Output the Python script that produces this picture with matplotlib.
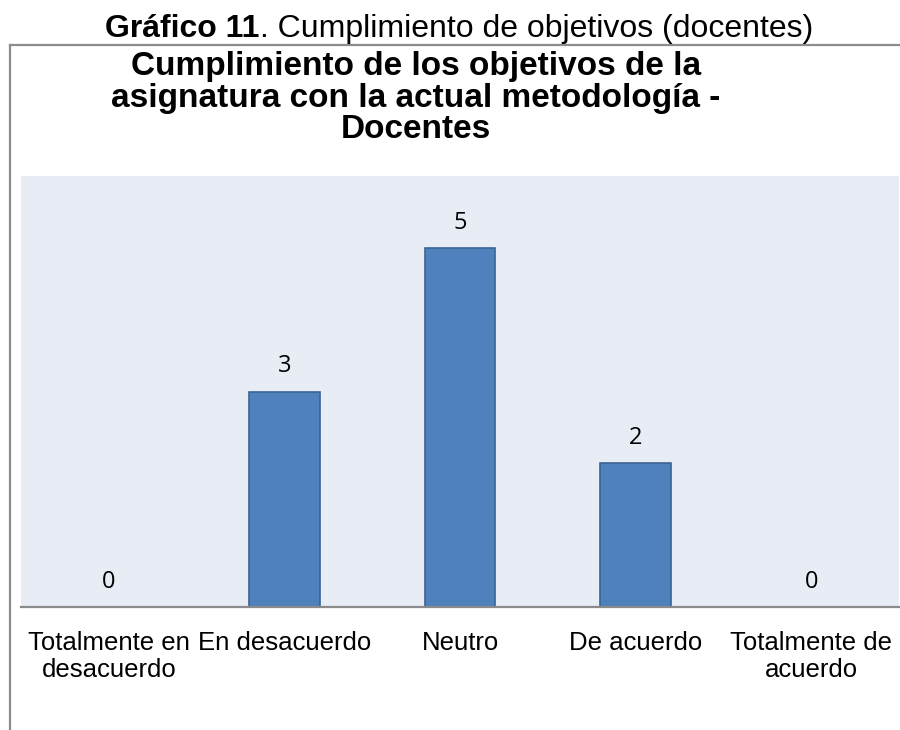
import matplotlib
matplotlib.use("Agg")
import matplotlib.pyplot as plt
from matplotlib.lines import Line2D

categories = ["Totalmente en\ndesacuerdo", "En desacuerdo", "Neutro", "De acuerdo", "Totalmente de\nacuerdo"]
values = [0, 3, 5, 2, 0]

fig = plt.figure(figsize=(9, 7.3), dpi=100)
fig.patch.set_facecolor("white")

# outer frame (top and left lines)
fig.add_artist(Line2D([10/900, 1.0], [1-45/730, 1-45/730], color="#8c8c8c", lw=1.6, transform=fig.transFigure))
fig.add_artist(Line2D([10/900, 10/900], [0, 1-45/730], color="#8c8c8c", lw=1.6, transform=fig.transFigure))

# figure caption: bold part + regular part, centred together
cap_y = 1 - 37/730
t1 = fig.text(0, cap_y, "Gráfico 11", ha="left", va="baseline", fontsize=23,
              fontweight="bold", family="Liberation Sans")
t2 = fig.text(0, cap_y, ". Cumplimiento de objetivos (docentes)", ha="left", va="baseline",
              fontsize=23, family="Liberation Sans")
fig.canvas.draw()
r = fig.canvas.get_renderer()
w1 = t1.get_window_extent(r).width
w2 = t2.get_window_extent(r).width
total = w1 + w2
x0 = 459 - total / 2
t1.set_x(x0 / 900)
t2.set_x((x0 + w1) / 900)

fig.text(416/900, 1-98/730,
         "Cumplimiento de los objetivos de la\nasignatura con la actual metodología -\nDocentes",
         ha="center", va="center", fontsize=24, fontweight="bold", family="Liberation Sans",
         linespacing=1.0)

ax = fig.add_axes([21/900, 1-607/730, 878/900, (607-176)/730])
ax.set_facecolor("#e8ecf4")
x = list(range(len(categories)))
bars = ax.bar(x, values, width=0.40, color="#4f81bd", edgecolor="#3a6496", linewidth=1.2, zorder=2)
ax.set_xlim(-0.5, 4.5)
ax.set_ylim(0, 6)
for xi, v in zip(x, values):
    ax.annotate(str(v), (xi, v), xytext=(0, 25), textcoords="offset pixels",
                ha="center", va="center", fontsize=17, family="Open Sans", color="#000000")
for s in ["top", "right", "left"]:
    ax.spines[s].set_visible(False)
ax.spines["bottom"].set_color("#8a8a8a")
ax.spines["bottom"].set_linewidth(1.6)
ax.set_yticks([])
ax.set_xticks(x)
ax.set_xticklabels(categories, fontsize=18.5, family="Liberation Sans", linespacing=1.2)
ax.tick_params(axis="x", length=0, pad=17)

fig.savefig("out.png", dpi=100)
